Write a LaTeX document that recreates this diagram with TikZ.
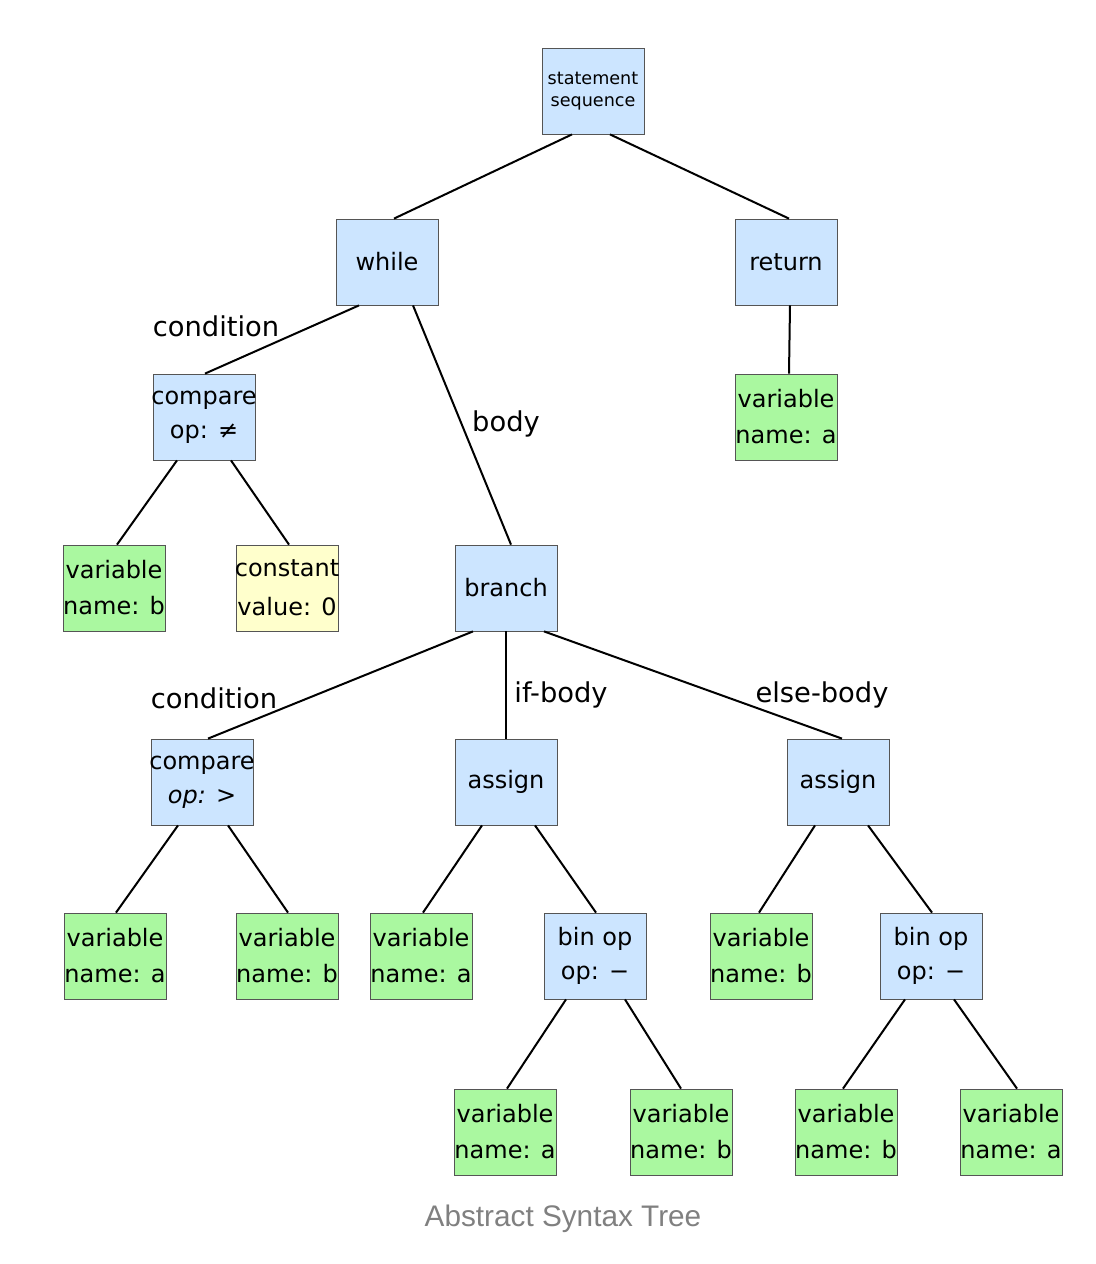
\documentclass[tikz,border=0pt]{standalone}
\usepackage{fontspec}
\setmainfont{DejaVu Sans}
\newfontfamily\captionfont{Liberation Sans}
\usetikzlibrary{calc}
\definecolor{stmtblue}{HTML}{CCE5FF}
\definecolor{leafgreen}{HTML}{AAF8A0}
\definecolor{constyellow}{HTML}{FFFFCC}
\definecolor{boxline}{HTML}{555555}
\tikzset{
  astnode/.style={draw=boxline, line width=0.6pt, minimum width=76.5pt, minimum height=64.5pt,
    inner xsep=-8pt, inner ysep=0pt, align=center, font=\fontsize{18}{25.5}\selectfont},
  inner/.style={astnode, fill=stmtblue},
  leaf/.style={astnode, fill=leafgreen, font=\fontsize{18}{27}\selectfont},
  constant/.style={astnode, fill=constyellow, font=\fontsize{18}{29}\selectfont},
  edge/.style={line width=1.5pt, black},
  edgelabel/.style={font=\fontsize{20.5}{24}\selectfont, inner sep=0pt}
}
\begin{document}
\begin{tikzpicture}[x=0.75pt, y=-0.75pt]
\useasboundingbox[fill=white] (0,0) rectangle (1096,1264);

% nodes
\node[inner, font=\fontsize{13.2}{16.5}\selectfont] (ss) at (593,91) {statement\\sequence};
\node[inner] (wh) at (387,262) {while};
\node[inner] (ret) at (786,262) {return};
\node[inner] (cmpa) at (204,417) {compare\\op: ≠};
\node[leaf] (retv) at (786,417) {variable\\name: a};
\node[leaf] (cva) at (114,588) {variable\\name: b};
\node[constant] (cvb) at (287,588) {constant\\value: 0};
\node[inner] (br) at (506,588) {branch};
\node[inner] (cmpb) at (202,782) {compare\\\textit{op:} >};
\node[inner] (asa) at (506,782) {assign};
\node[inner] (asb) at (838,782) {assign};
\node[leaf] (cba) at (115,956) {variable\\name: a};
\node[leaf] (cbb) at (287,956) {variable\\name: b};
\node[leaf] (aav) at (421,956) {variable\\name: a};
\node[inner] (bopa) at (595,956) {bin op\\op: −};
\node[leaf] (abv) at (761,956) {variable\\name: b};
\node[inner] (bopb) at (931,956) {bin op\\op: −};
\node[leaf] (baa) at (505,1132) {variable\\name: a};
\node[leaf] (bab) at (681,1132) {variable\\name: b};
\node[leaf] (bba) at (846,1132) {variable\\name: b};
\node[leaf] (bbb) at (1011,1132) {variable\\name: a};

% connectors
\draw[edge] ($(ss.south)+(-21,0)$) -- ($(wh.north)+(7,0)$);
\draw[edge] ($(ss.south)+(17,0)$) -- ($(ret.north)+(3,0)$);
\draw[edge] ($(wh.south)+(-28,0)$) -- ($(cmpa.north)+(1,0)$);
\draw[edge] ($(wh.south)+(26,0)$) -- ($(br.north)+(5,0)$);
\draw[edge] ($(ret.south)+(4,0)$) -- ($(retv.north)+(3,0)$);
\draw[edge] ($(cmpa.south)+(-27,0)$) -- ($(cva.north)+(3,0)$);
\draw[edge] ($(cmpa.south)+(27,0)$) -- ($(cvb.north)+(2,0)$);
\draw[edge] ($(br.south)+(-33,0)$) -- ($(cmpb.north)+(6,0)$);
\draw[edge] (br.south) -- (asa.north);
\draw[edge] ($(br.south)+(38,0)$) -- ($(asb.north)+(4,0)$);
\draw[edge] ($(cmpb.south)+(-24,0)$) -- ($(cba.north)+(1,0)$);
\draw[edge] ($(cmpb.south)+(26,0)$) -- ($(cbb.north)+(1,0)$);
\draw[edge] ($(asa.south)+(-24,0)$) -- ($(aav.north)+(2,0)$);
\draw[edge] ($(asa.south)+(29,0)$) -- ($(bopa.north)+(1,0)$);
\draw[edge] ($(asb.south)+(-23,0)$) -- ($(abv.north)+(-2,0)$);
\draw[edge] ($(asb.south)+(30,0)$) -- ($(bopb.north)+(1,0)$);
\draw[edge] ($(bopa.south)+(-29,0)$) -- ($(baa.north)+(2,0)$);
\draw[edge] ($(bopa.south)+(30,0)$) -- (bab.north);
\draw[edge] ($(bopb.south)+(-26,0)$) -- ($(bba.north)+(-3,0)$);
\draw[edge] ($(bopb.south)+(23,0)$) -- ($(bbb.north)+(6,0)$);

% connector labels
\node[edgelabel] (lcond) at (216,326) {condition};
\node[edgelabel] (lbody) at (506,424) {body};
\node[edgelabel] (lcondb) at (214,698) {condition};
\node[edgelabel] (lif) at (561,695) {if-body};
\node[edgelabel] (lelse) at (822,695) {else-body};

% caption
\node[font=\captionfont\fontsize{22.3}{26}\selectfont, text=black!50] (cap) at (563,1219) {Abstract Syntax Tree};
\end{tikzpicture}
\end{document}
